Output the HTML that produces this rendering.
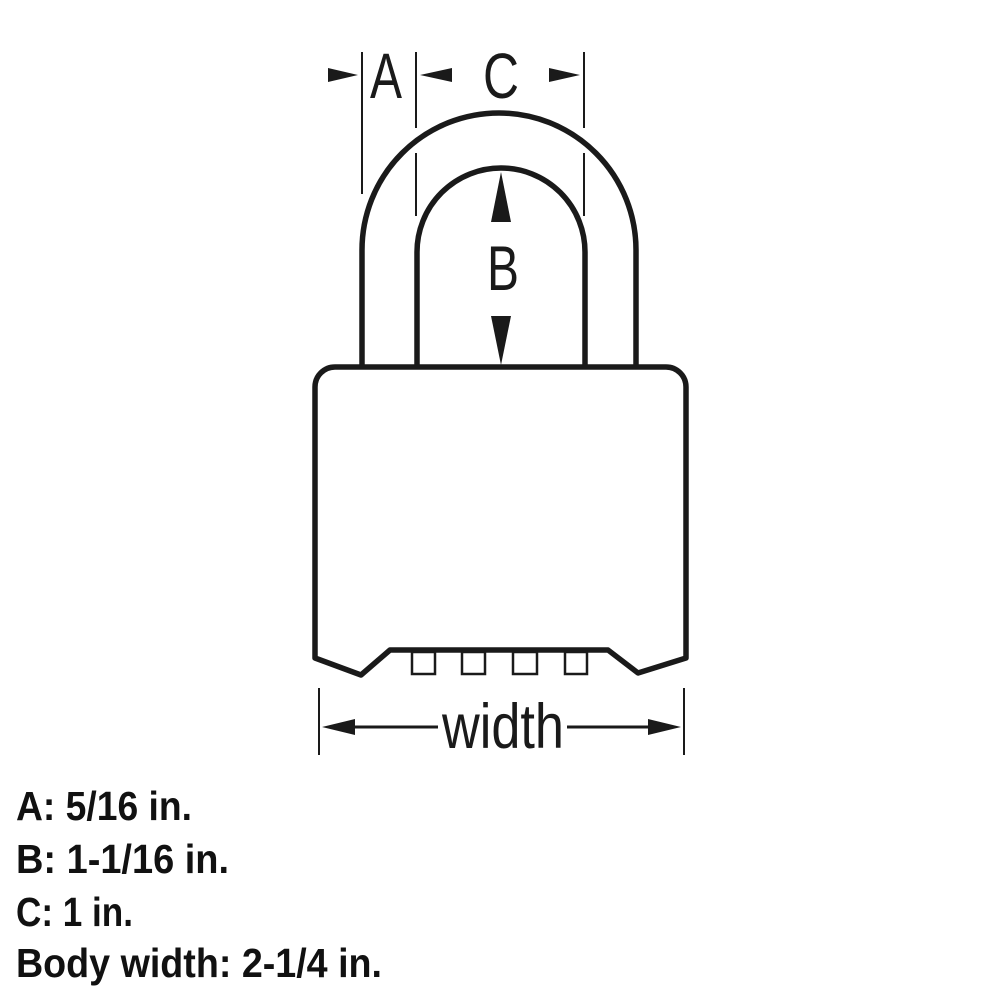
<!DOCTYPE html>
<html><head><style>html,body{margin:0;padding:0;background:#fff}svg{display:block}</style></head>
<body>
<svg width="1000" height="1000" viewBox="0 0 1000 1000" xmlns="http://www.w3.org/2000/svg">
<g fill="none" stroke="#1a1a1a" stroke-width="5.5" stroke-linejoin="round">
<path d="M362,367 L362,250 A137,137 0 0 1 636,250 L636,367"/>
<path d="M417,367 L417,252 A84,84 0 0 1 585,252 L585,367"/>
<path d="M335,367 L666,367 A20,20 0 0 1 686,387 L686,658 L638,673 L608,650 L390,650 L361,675 L315,658 L315,387 A20,20 0 0 1 335,367 Z"/>
</g>
<g fill="none" stroke="#1a1a1a" stroke-width="2.5">
<rect x="412" y="652" width="23" height="22"/>
<rect x="462" y="652" width="23" height="22"/>
<rect x="513" y="652" width="24" height="22"/>
<rect x="565" y="652" width="22" height="22"/>
</g>
<g stroke="#1a1a1a" stroke-width="2">
<line x1="362" y1="52" x2="362" y2="194"/>
<line x1="416" y1="52" x2="416" y2="128"/>
<line x1="416" y1="153" x2="416" y2="216"/>
<line x1="584" y1="52" x2="584" y2="128"/>
<line x1="584" y1="153" x2="584" y2="216"/>
<line x1="319" y1="688" x2="319" y2="755"/>
<line x1="684" y1="688" x2="684" y2="755"/>
<line x1="335" y1="727" x2="438" y2="727" stroke-width="3"/>
<line x1="567" y1="727" x2="666" y2="727" stroke-width="3"/>
</g>
<g fill="#1a1a1a">
<polygon points="328,68 358,75 328,82"/>
<polygon points="452,68 420,75 452,82"/>
<polygon points="549,68 580,75 549,82"/>
<polygon points="501,172 491,222 511,222"/>
<polygon points="501,365 491,316 511,316"/>
<polygon points="322,727 355,719 355,735"/>
<polygon points="681,727 648,719 648,735"/>
</g>
<g font-family="Liberation Sans, sans-serif" fill="#1a1a1a">
<text x="386" y="98" font-size="64" text-anchor="middle" textLength="32" lengthAdjust="spacingAndGlyphs">A</text>
<text x="501" y="98" font-size="64" text-anchor="middle" textLength="36" lengthAdjust="spacingAndGlyphs">C</text>
<text x="503" y="290" font-size="63" text-anchor="middle" textLength="32" lengthAdjust="spacingAndGlyphs">B</text>
<text x="442" y="748" font-size="63" textLength="122" lengthAdjust="spacingAndGlyphs">width</text>
</g>
<g font-family="Liberation Sans, sans-serif" font-weight="bold" font-size="41" fill="#111">
<text x="16" y="820" textLength="176" lengthAdjust="spacingAndGlyphs">A: 5/16 in.</text>
<text x="16" y="873" textLength="213" lengthAdjust="spacingAndGlyphs">B: 1-1/16 in.</text>
<text x="16" y="926" textLength="117" lengthAdjust="spacingAndGlyphs">C: 1 in.</text>
<text x="16" y="977" textLength="366" lengthAdjust="spacingAndGlyphs">Body width: 2-1/4 in.</text>
</g>
</svg>
</body></html>
